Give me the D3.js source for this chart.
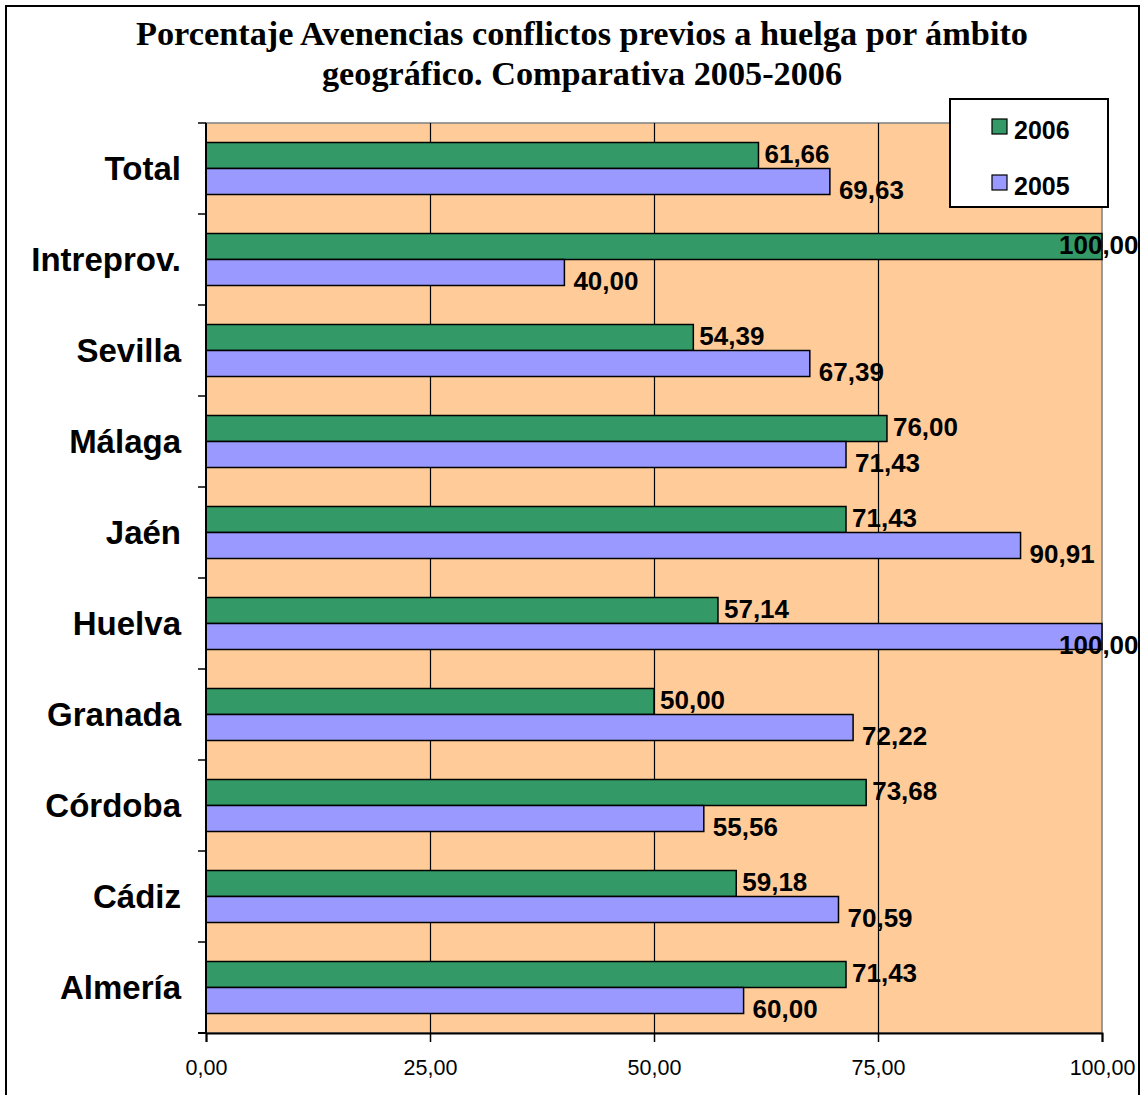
<!DOCTYPE html>
<html><head><meta charset="utf-8">
<script src="https://cdn.jsdelivr.net/npm/d3@7"></script>
<style>html,body{margin:0;padding:0;background:#fff;}svg{display:block;}</style>
</head><body>
<svg id="c" width="1142" height="1095"></svg>
<script>
const categories = ["Total","Intreprov.","Sevilla","Málaga","Jaén","Huelva","Granada","Córdoba","Cádiz","Almería"];
const series = ["2006","2005"];
const values2006 = [61.66,100.00,54.39,76.00,71.43,57.14,50.00,73.68,59.18,71.43];
const values2005 = [69.63,40.00,67.39,71.43,90.91,100.00,72.22,55.56,70.59,60.00];
const xTicks = [0,25,50,75,100];
const titleLines = ["Porcentaje Avenencias conflictos previos a huelga por ámbito","geográfico. Comparativa 2005-2006"];

const colors = {"2006":"#339966","2005":"#9999FF"};
const fmt = v => v.toFixed(2).replace(".", ",");
const svg = d3.select("#c");
const L = 206, R = 1102, T = 123, B = 1033;

// outer border
svg.append("rect").attr("x",6).attr("y",6).attr("width",1133).attr("height",1100)
  .attr("fill","#fff").attr("stroke","#000").attr("stroke-width",2);

// title
titleLines.forEach((t,i)=>{
  svg.append("text").attr("x",582).attr("y",[45,85][i])
    .attr("text-anchor","middle").attr("font-family","'Liberation Serif','Times New Roman',serif")
    .attr("font-weight","bold").attr("font-size",34)
    .attr("textLength",[892,520][i]).attr("lengthAdjust","spacingAndGlyphs")
    .text(t);
});

const x = d3.scaleLinear().domain([0,100]).range([L,R]);
const y = d3.scaleBand().domain(categories).range([T,B]).padding(0);
const ys = d3.scaleBand().domain(series).range([0,y.bandwidth()]).paddingInner(0).paddingOuter(0.75);

// plot area
svg.append("rect").attr("x",L).attr("y",T).attr("width",R-L).attr("height",B-T)
  .attr("fill","#FFCC99").attr("stroke","#808080").attr("stroke-width",1.5);

// gridlines
svg.append("g").selectAll("line").data(xTicks.filter(d=>d>0&&d<100)).join("line")
  .attr("x1",d=>Math.round(x(d))+0.5).attr("x2",d=>Math.round(x(d))+0.5).attr("y1",T).attr("y2",B)
  .attr("stroke","#000").attr("stroke-width",1.2);

// bars
const rows = categories.map((c,i)=>({c, v:{"2006":values2006[i],"2005":values2005[i]}}));
const g = svg.append("g");
rows.forEach(r=>{
  series.forEach(s=>{
    g.append("rect").attr("x",x(0)).attr("y",y(r.c)+ys(s))
      .attr("width",x(r.v[s])-x(0)).attr("height",ys.bandwidth())
      .attr("fill",colors[s]).attr("stroke","#000").attr("stroke-width",1.5);
  });
});

// axes
const xAxis = svg.append("g").attr("transform",`translate(0,${B})`)
  .call(d3.axisBottom(x).tickValues(xTicks).tickSize(9).tickPadding(18).tickFormat(fmt));
xAxis.select(".domain").attr("stroke","#000").attr("stroke-width",2);
xAxis.selectAll(".tick line").attr("stroke","#000").attr("stroke-width",1.5);
xAxis.selectAll(".tick text").attr("font-family","Arial,'Liberation Sans',sans-serif")
  .attr("font-size",21.5).attr("fill","#000");
svg.append("line").attr("x1",198).attr("x2",L).attr("y1",B).attr("y2",B).attr("stroke","#000").attr("stroke-width",2);

svg.append("line").attr("x1",L).attr("x2",L).attr("y1",T).attr("y2",B).attr("stroke","#000").attr("stroke-width",2);
const bounds = categories.map(c=>y(c));
svg.append("g").selectAll("line").data(bounds).join("line")
  .attr("x1",198).attr("x2",L).attr("y1",d=>d).attr("y2",d=>d)
  .attr("stroke","#000").attr("stroke-width",1.5);

// category labels
svg.append("g").selectAll("text").data(categories).join("text")
  .attr("x",181).attr("y",d=>y(d)+y.bandwidth()/2).attr("dy","0.35em")
  .attr("text-anchor","end").attr("font-family","Arial,'Liberation Sans',sans-serif")
  .attr("font-weight","bold").attr("font-size",33).text(d=>d);

// data labels
const lab = svg.append("g").attr("font-family","Arial,'Liberation Sans',sans-serif")
  .attr("font-weight","bold").attr("font-size",26).attr("fill","#000");
const off = {"2006":{dx:6,dy:-2},"2005":{dx:9,dy:8}};
rows.forEach(r=>{
  series.forEach(s=>{
    const t = fmt(r.v[s]);
    const w = 80;
    let xs = x(r.v[s]) + off[s].dx;
    if (xs + w > 1139) xs = 1139 - w;
    lab.append("text").attr("x",xs).attr("y",y(r.c)+ys(s)+ys.bandwidth()/2+off[s].dy)
      .attr("dy","0.35em").text(t);
  });
});

// legend
const lg = svg.append("g");
lg.append("rect").attr("x",950).attr("y",99).attr("width",158).attr("height",108)
  .attr("fill","#fff").attr("stroke","#000").attr("stroke-width",2);
series.forEach((s,i)=>{
  const cy = [127,183][i];
  lg.append("rect").attr("x",992).attr("y",cy-8).attr("width",15).attr("height",15)
    .attr("fill",colors[s]).attr("stroke","#000").attr("stroke-width",1.2);
  lg.append("text").attr("x",1014).attr("y",cy+3).attr("dy","0.35em")
    .attr("font-family","Arial,'Liberation Sans',sans-serif").attr("font-weight","bold")
    .attr("font-size",25).text(s);
});
</script>
</body></html>
